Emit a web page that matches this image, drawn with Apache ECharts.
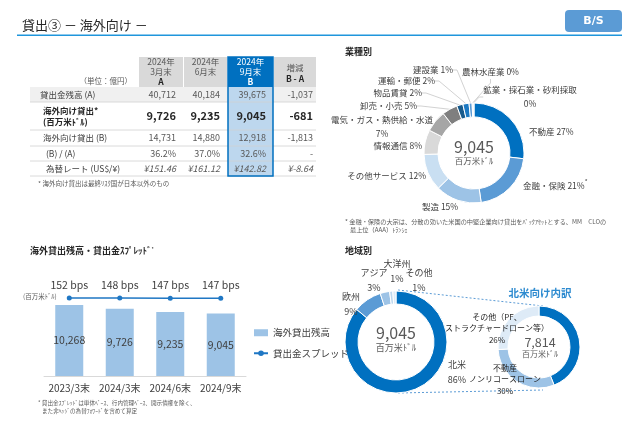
<!DOCTYPE html>
<html>
<head>
<meta charset="utf-8">
<script src="https://cdn.jsdelivr.net/npm/echarts@6.0.0/dist/echarts.min.js"></script>
<style>
  html, body { margin: 0; padding: 0; background: #fff; }
  #main { width: 640px; height: 443px; }
</style>
</head>
<body>
<div id="main"></div>
<script>
const FONT = '"Noto Sans CJK JP", sans-serif';
const TEXT = '#404040';
const SUB = '#595959';

// 表
const tableHeads = ['2024年\n3月末', '2024年\n6月末', '2024年\n9月末', '増減'];
const tableHeadKeys = ['A', '', 'B', 'B - A'];
const tableRowNames = ['貸出金残高 (A)', '海外向け貸出*\n(百万米ﾄﾞﾙ)', '海外向け貸出 (B)', '(B) / (A)', '為替レート (US$/¥)'];
const loanBalance = [40712, 40184, 39675, -1037];
const overseasUsd = [9726, 9235, 9045, -681];
const overseasJpy = [14731, 14880, 12918, -1813];
const overseasRatio = [36.2, 37.0, 32.6, null];
const fxRate = [151.46, 161.12, 142.82, -8.64];

// 残高・スプレッド
const periods = ['2023/3末', '2024/3末', '2024/6末', '2024/9末'];
const overseasBalance = [10268, 9726, 9235, 9045];
const spreadBps = [152, 148, 147, 147];

// 業種別
const industryNames = ['不動産', '金融・保険', '製造', 'その他サービス', '情報通信', '電気・ガス・熱供給・水道',
  '卸売・小売', '物品賃貸', '運輸・郵便', '建設業', '農林水産業', '鉱業・採石業・砂利採取'];
const industryShares = [27, 21, 15, 12, 8, 7, 5, 2, 2, 1, 0.3, 0.3];

// 地域別
const regionNames = ['北米', '欧州', 'アジア', '大洋州', 'その他'];
const regionShares = [86, 9, 3, 1, 1];

// 北米向け内訳
const naNames = ['コーポレート\nローン', '不動産\nノンリコースローン', 'その他（PF、\nストラクチャードローン等）'];
const naShares = [44, 30, 26];
const overseasTotal = 9045;
const naTotal = 7814;

const industryColors = ['#0070c0', '#5b9bd5', '#9dc3e6', '#c9dff2', '#d9d9d9', '#a6a6a6',
  '#7f7f7f', '#175a8c', '#1a78c2', '#5b9bd5', '#9dc3e6', '#c9dff2'];
const regionColors = ['#0070c0', '#5b9bd5', '#9dc3e6', '#bdd7ee', '#deebf7'];
const naColors = ['#0070c0', '#9dc3e6', '#deebf7'];

// ラベル位置 [x, y, align]
const industryLabelPos = [
  [529, 132, 'left'], [523, 186, 'left'], [422, 207, 'left'], [426, 176, 'right'],
  [422, 146, 'right'], [382, 127, 'center'], [417, 106, 'right'], [422, 93, 'right'],
  [435, 81, 'right'], [453, 70, 'right'], [462, 72, 'left'], [530, 97, 'center']
];
const regionLabelPos = [[457, 372], [351, 304], [374, 280], [397, 271], [419, 280]];
const naLabelPos = [[607, 349], [505, 379], [497, 328]];

const fmt = n => n.toLocaleString('en-US');

// ---- 表を graphic で組み立てる
const colL = [139, 184, 228, 274];
const colR = [183, 227, 273, 316];
const rowY = [87, 102, 130, 146, 161, 176];
const valueRight = [176, 220, 266, 313];
const labelLeft = [40, 43, 43, 46, 46];
const headTop = [57, 57, 57, 62];

const tableRows = [loanBalance, overseasUsd, overseasJpy, overseasRatio, fxRate];
const rowFormat = [
  fmt, fmt, fmt,
  v => (v == null ? '-' : v.toFixed(1) + '%'),
  v => '¥' + v.toFixed(2)
];

function tableGraphics() {
  const g = [];
  // 見出しセル
  tableHeads.forEach((h, i) => {
    g.push({
      type: 'rect', shape: { x: colL[i], y: 57, width: colR[i] - colL[i], height: 30 },
      style: { fill: i === 2 ? '#0070c0' : '#d9d9d9' }
    });
    const key = tableHeadKeys[i] ? '\n{b|' + tableHeadKeys[i] + '}' : '';
    g.push({
      type: 'text', x: (colL[i] + colR[i]) / 2, y: headTop[i],
      style: {
        text: h + key, align: 'center', verticalAlign: 'top', fontFamily: FONT,
        fontSize: 8.5, lineHeight: i === 3 ? 11 : 10, fill: i === 2 ? '#fff' : SUB,
        rich: { b: { fontWeight: 'bold', fontSize: 8.5, fontFamily: FONT, fill: i === 2 ? '#fff' : '#262626', lineHeight: i === 3 ? 11 : 10 } }
      }
    });
  });
  g.push({
    type: 'text', x: 132, y: 81,
    style: { text: '（単位：億円）', align: 'right', verticalAlign: 'middle', fontFamily: FONT, fontSize: 7.5, fill: SUB }
  });
  // 背景
  g.push({ type: 'rect', shape: { x: 30, y: rowY[0], width: 286, height: rowY[1] - rowY[0] }, style: { fill: '#f0f0f0' } });
  g.push({ type: 'rect', shape: { x: colL[2], y: rowY[0], width: colR[2] - colL[2], height: rowY[5] - rowY[0] }, style: { fill: '#bdd7ee' } });
  // 罫線
  for (let k = 1; k < rowY.length; k++) {
    g.push({ type: 'line', shape: { x1: 30, y1: rowY[k], x2: 316, y2: rowY[k] }, style: { stroke: '#d0d0d0', lineWidth: 0.8 } });
  }
  // 行
  tableRowNames.forEach((name, r) => {
    const cy = (rowY[r] + rowY[r + 1]) / 2;
    const bold = r === 1;
    g.push({
      type: 'text', x: labelLeft[r], y: cy,
      style: {
        text: name, align: 'left', verticalAlign: 'middle', fontFamily: FONT,
        fontSize: 8.5, lineHeight: 11, fontWeight: bold ? 'bold' : 'normal', fill: bold ? '#262626' : TEXT
      }
    });
    tableRows[r].forEach((v, c) => {
      g.push({
        type: 'text', x: valueRight[c], y: cy,
        style: {
          text: rowFormat[r](v), align: 'right', verticalAlign: 'middle', fontFamily: FONT,
          fontSize: bold ? 11 : 9, fontWeight: bold ? 'bold' : 'normal',
          fontStyle: r === 4 ? 'italic' : 'normal', fill: bold ? '#262626' : SUB
        }
      });
    });
  });
  g.push({
    type: 'rect', shape: { x: colL[2], y: 57, width: colR[2] - colL[2], height: rowY[5] - 57 },
    style: { fill: null, stroke: '#0070c0', lineWidth: 1.5 }
  });
  g.push({
    type: 'text', x: 38, y: 184,
    style: { text: '* 海外向け貸出は最終ﾘｽｸ国が日本以外のもの', verticalAlign: 'middle', fontFamily: FONT, fontSize: 6.5, fill: SUB }
  });
  return g;
}

function txt(x, y, text, size, extra) {
  return {
    type: 'text', x: x, y: y, z: 10,
    style: Object.assign({ text: text, fontFamily: FONT, fontSize: size, fill: TEXT, verticalAlign: 'middle' }, extra || {})
  };
}

const graphics = [
  txt(22, 25, '貸出③ － 海外向け －', 13, { fill: '#262626' }),
  { type: 'rect', shape: { x: 17, y: 34.5, width: 605, height: 1.5 }, style: { fill: '#1f96dc' } },
  { type: 'rect', shape: { x: 565, y: 10, width: 57, height: 22, r: 4 }, style: { fill: '#5b9bd5' } },
  txt(593.5, 21, 'B/S', 11, { fill: '#fff', fontWeight: 'bold', align: 'center', fontFamily: 'DejaVu Sans, sans-serif' }),
  txt(345, 52, '業種別', 9, { fontWeight: 'bold', fill: '#262626' }),
  txt(345, 251, '地域別', 9, { fontWeight: 'bold', fill: '#262626' }),
  txt(30, 251, '海外貸出残高・貸出金ｽﾌﾟﾚｯﾄﾞ{s|*}', 9, {
    fontWeight: 'bold', fill: '#262626',
    rich: { s: { fontSize: 5, verticalAlign: 'top', fontFamily: FONT, fill: '#262626' } }
  }),
  txt(474, 147, fmt(overseasTotal), 16, { align: 'center', fill: SUB }),
  txt(474, 161, '百万米ﾄﾞﾙ', 8.5, { align: 'center', fill: SUB }),
  txt(345, 222, '* 金融・保険の大宗は、分散の効いた米国の中堅企業向け貸出をﾊﾞｯｸｱｾｯﾄとする、MM　CLOの', 6.2, { fill: SUB }),
  txt(350, 230, '最上位（AAA）ﾄﾗﾝｼｪ', 6.2, { fill: SUB }),
  txt(396, 333, fmt(overseasTotal), 16, { align: 'center', fill: SUB }),
  txt(396, 348, '百万米ﾄﾞﾙ', 9, { align: 'center', fill: SUB }),
  txt(540, 342, fmt(naTotal), 12.5, { align: 'center', fill: SUB }),
  txt(540, 354, '百万米ﾄﾞﾙ', 8, { align: 'center', fill: SUB }),
  txt(540, 293, '北米向け内訳', 10.5, { align: 'center', fontWeight: 'bold', fill: '#2e8bd0' }),
  { type: 'line', shape: { x1: 398, y1: 290, x2: 543, y2: 306 }, style: { stroke: '#5b9bd5', lineWidth: 1, lineDash: [2, 2] } },
  { type: 'line', shape: { x1: 398, y1: 393, x2: 543, y2: 390 }, style: { stroke: '#5b9bd5', lineWidth: 1, lineDash: [2, 2] } },
  txt(23, 297, '(百万米ﾄﾞﾙ)', 6.5, { fill: SUB }),
  txt(38, 403, '* 貸出金ｽﾌﾟﾚｯﾄﾞは単体ﾍﾞｰｽ、行内管理ﾍﾞｰｽ、開示債権を除く、', 5.6, { fill: SUB }),
  txt(42, 411, 'また非ﾍｯｼﾞの為替ﾌｫﾜｰﾄﾞを含めて算定', 5.6, { fill: SUB })
].concat(tableGraphics());

function pieLayout(pos) {
  return p => {
    const a = pos[p.dataIndex];
    return { x: a[0], y: a[1], align: a[2] || 'center', verticalAlign: 'middle' };
  };
}

const chart = echarts.init(document.getElementById('main'), null, { renderer: 'canvas' });

chart.setOption({
  animation: false,
  textStyle: { fontFamily: FONT },
  graphic: graphics,
  legend: {
    left: 248, top: 323, orient: 'vertical', itemWidth: 14, itemHeight: 7, itemGap: 11,
    textStyle: { fontSize: 9.5, color: TEXT, fontFamily: FONT },
    data: [{ name: '海外貸出残高', icon: 'rect' }, { name: '貸出金スプレッド' }]
  },
  grid: { left: 44, top: 290, width: 202, height: 86 },
  xAxis: {
    type: 'category', data: periods,
    axisLine: { lineStyle: { color: '#d9d9d9' } },
    axisTick: { show: false },
    axisLabel: { color: TEXT, fontSize: 10, margin: 7, interval: 0, hideOverlap: false, fontFamily: FONT }
  },
  yAxis: [
    { type: 'value', min: 0, max: 12428, show: false, splitLine: { show: false } },
    { type: 'value', min: -1664, max: 336, show: false, splitLine: { show: false } }
  ],
  series: [
    {
      type: 'bar', name: '海外貸出残高', data: overseasBalance, barWidth: 28,
      itemStyle: { color: '#9dc3e6' },
      label: { show: true, position: 'inside', color: TEXT, fontSize: 10.5, formatter: p => fmt(p.value) }
    },
    {
      type: 'line', name: '貸出金スプレッド', yAxisIndex: 1, data: spreadBps,
      symbol: 'circle', symbolSize: 5,
      lineStyle: { color: '#1f77c4', width: 1.5 }, itemStyle: { color: '#1f77c4' },
      label: { show: true, position: 'top', distance: 5, color: TEXT, fontSize: 10.5, formatter: '{c} bps' }
    },
    {
      type: 'pie', name: '業種別', center: [474, 153], radius: [36, 50], startAngle: 90,
      itemStyle: { borderColor: '#fff', borderWidth: 1 },
      label: {
        show: true, position: 'outside', color: TEXT, fontSize: 8.5, lineHeight: 14,
        formatter: p => {
          const pct = Math.round(p.value) + '%';
          if (p.dataIndex === 5 || p.dataIndex === 11) return p.name + '\n' + pct;
          if (p.dataIndex === 1) return p.name + ' ' + pct + '{s|*}';
          return p.name + ' ' + pct;
        },
        rich: { s: { fontSize: 6, verticalAlign: 'top', color: TEXT } }
      },
      labelLine: { show: false, length: 4, length2: 4, smooth: false, lineStyle: { color: '#bfbfbf', width: 0.7 } },
      labelLayout: pieLayout(industryLabelPos),
      emphasis: { disabled: true },
      data: industryNames.map((n, i) => ({
        name: n, value: industryShares[i], itemStyle: { color: industryColors[i] },
        labelLine: { show: i >= 6 }
      }))
    },
    {
      type: 'pie', name: '地域別', center: [396, 342], radius: [38, 51], startAngle: 90,
      itemStyle: { borderColor: '#fff', borderWidth: 1 },
      label: {
        show: true, position: 'outside', color: TEXT, fontSize: 9, lineHeight: 15,
        formatter: p => p.name + '\n' + p.value + '%'
      },
      labelLine: { show: false },
      labelLayout: pieLayout(regionLabelPos),
      emphasis: { disabled: true },
      data: regionNames.map((n, i) => ({ name: n, value: regionShares[i], itemStyle: { color: regionColors[i] } }))
    },
    {
      type: 'pie', name: '北米向け内訳', center: [539, 347], radius: [31, 41], startAngle: 90,
      itemStyle: { borderColor: '#fff', borderWidth: 1 },
      label: {
        show: true, position: 'outside', color: '#262626', fontSize: 8, lineHeight: 11.5,
        formatter: p => p.name + '\n' + p.value + '%'
      },
      labelLine: { show: false },
      labelLayout: pieLayout(naLabelPos),
      emphasis: { disabled: true },
      data: naNames.map((n, i) => ({ name: n, value: naShares[i], itemStyle: { color: naColors[i] } }))
    }
  ]
});
</script>
</body>
</html>
